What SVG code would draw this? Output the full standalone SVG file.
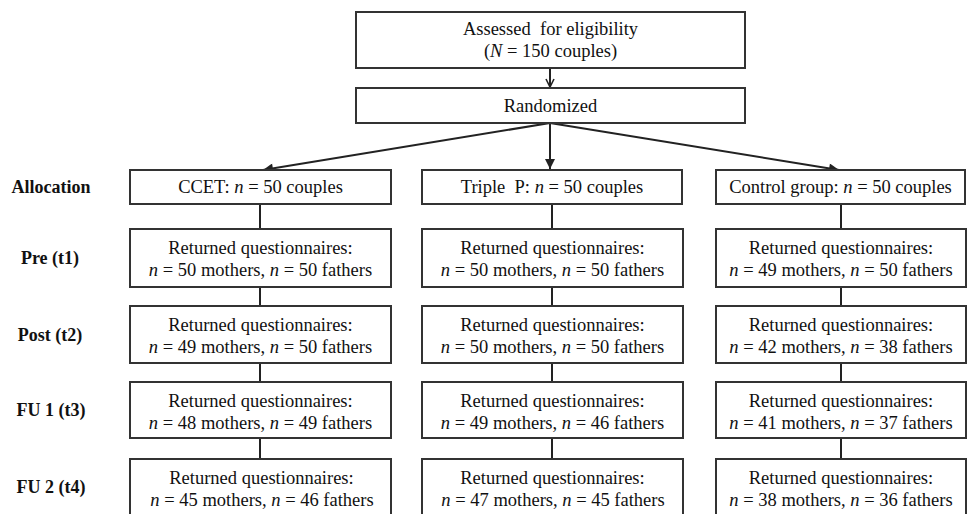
<svg xmlns="http://www.w3.org/2000/svg" width="968" height="514" viewBox="0 0 968 514">
<defs>
<style>
.box{fill:#fff;stroke:#333;stroke-width:2}
.t{font-family:'Times New Roman','Liberation Serif','DejaVu Serif',serif;font-size:18.5px;fill:#111;text-anchor:middle;white-space:pre}
.lab{font-family:'Times New Roman','Liberation Serif','DejaVu Serif',serif;font-size:18px;font-weight:bold;fill:#111;text-anchor:middle}
.c{stroke:#222;stroke-width:2;fill:none}
</style>
<marker id="open" viewBox="0 0 10 10" refX="9" refY="5" markerWidth="10" markerHeight="10" markerUnits="userSpaceOnUse" orient="auto">
<path d="M1,1 L9,5 L1,9" fill="none" stroke="#222" stroke-width="1.6"/>
</marker>
<marker id="fill" viewBox="0 0 10 10" refX="10" refY="5" markerWidth="12" markerHeight="10" markerUnits="userSpaceOnUse" orient="auto">
<path d="M0,0 L10,5 L0,10 Z" fill="#222"/>
</marker>
</defs>
<rect width="968" height="514" fill="#fff"/>

<g id="connectors">
<line class="c" x1="550" y1="68" x2="550" y2="87" marker-end="url(#open)"/>
<line class="c" x1="550" y1="123" x2="263" y2="170" marker-end="url(#fill)"/>
<line class="c" x1="550" y1="123" x2="550" y2="169" marker-end="url(#fill)"/>
<line class="c" x1="550" y1="123" x2="839" y2="170" marker-end="url(#fill)"/>
<path class="c" d="M260,204V229M260,287V306M260,363V382M260,438V459"/>
<path class="c" d="M552,204V229M552,287V306M552,363V382M552,438V459"/>
<path class="c" d="M841,204V229M841,287V306M841,363V382M841,438V459"/>
</g>

<g id="labels">
<text class="lab" x="51" y="193">Allocation</text>
<text class="lab" x="50" y="264">Pre (t1)</text>
<text class="lab" x="50" y="341">Post (t2)</text>
<text class="lab" x="51" y="416">FU 1 (t3)</text>
<text class="lab" x="51" y="493">FU 2 (t4)</text>
</g>

<g id="eligibility">
<rect class="box" x="356" y="12" width="389" height="56"/>
<text class="t" x="550.5" y="35">Assessed  for eligibility</text>
<text class="t" x="550.5" y="57">(<tspan font-style="italic">N</tspan> = 150 couples)</text>
</g>
<g id="randomized">
<rect class="box" x="356" y="88" width="389" height="35"/>
<text class="t" x="550.5" y="112">Randomized</text>
</g>

<g id="ccet">
<rect class="box" x="130" y="170" width="261" height="34"/>
<text class="t" x="260.5" y="193">CCET: <tspan font-style="italic">n</tspan> = 50 couples</text>
</g>
<g id="triplep">
<rect class="box" x="422" y="170" width="260" height="34"/>
<text class="t" x="552" y="193">Triple  P: <tspan font-style="italic">n</tspan> = 50 couples</text>
</g>
<g id="control">
<rect class="box" x="716" y="170" width="249" height="34"/>
<text class="t" x="840.5" y="193">Control group: <tspan font-style="italic">n</tspan> = 50 couples</text>
</g>

<g id="ccet-pre">
<rect class="box" x="130" y="229" width="261" height="58"/>
<text class="t" x="260.5" y="254">Returned questionnaires:</text>
<text class="t" x="260.5" y="276"><tspan font-style="italic">n</tspan> = 50 mothers, <tspan font-style="italic">n</tspan> = 50 fathers</text>
</g>
<g id="triplep-pre">
<rect class="box" x="422" y="229" width="261" height="58"/>
<text class="t" x="552.5" y="254">Returned questionnaires:</text>
<text class="t" x="552.5" y="276"><tspan font-style="italic">n</tspan> = 50 mothers, <tspan font-style="italic">n</tspan> = 50 fathers</text>
</g>
<g id="control-pre">
<rect class="box" x="716" y="229" width="250" height="58"/>
<text class="t" x="841" y="254">Returned questionnaires:</text>
<text class="t" x="841" y="276"><tspan font-style="italic">n</tspan> = 49 mothers, <tspan font-style="italic">n</tspan> = 50 fathers</text>
</g>

<g id="ccet-post">
<rect class="box" x="130" y="306" width="261" height="57"/>
<text class="t" x="260.5" y="331">Returned questionnaires:</text>
<text class="t" x="260.5" y="353"><tspan font-style="italic">n</tspan> = 49 mothers, <tspan font-style="italic">n</tspan> = 50 fathers</text>
</g>
<g id="triplep-post">
<rect class="box" x="422" y="306" width="261" height="57"/>
<text class="t" x="552.5" y="331">Returned questionnaires:</text>
<text class="t" x="552.5" y="353"><tspan font-style="italic">n</tspan> = 50 mothers, <tspan font-style="italic">n</tspan> = 50 fathers</text>
</g>
<g id="control-post">
<rect class="box" x="716" y="306" width="250" height="57"/>
<text class="t" x="841" y="331">Returned questionnaires:</text>
<text class="t" x="841" y="353"><tspan font-style="italic">n</tspan> = 42 mothers, <tspan font-style="italic">n</tspan> = 38 fathers</text>
</g>

<g id="ccet-fu1">
<rect class="box" x="130" y="382" width="261" height="56"/>
<text class="t" x="260.5" y="407">Returned questionnaires:</text>
<text class="t" x="260.5" y="429"><tspan font-style="italic">n</tspan> = 48 mothers, <tspan font-style="italic">n</tspan> = 49 fathers</text>
</g>
<g id="triplep-fu1">
<rect class="box" x="422" y="382" width="261" height="56"/>
<text class="t" x="552.5" y="407">Returned questionnaires:</text>
<text class="t" x="552.5" y="429"><tspan font-style="italic">n</tspan> = 49 mothers, <tspan font-style="italic">n</tspan> = 46 fathers</text>
</g>
<g id="control-fu1">
<rect class="box" x="716" y="382" width="250" height="56"/>
<text class="t" x="841" y="407">Returned questionnaires:</text>
<text class="t" x="841" y="429"><tspan font-style="italic">n</tspan> = 41 mothers, <tspan font-style="italic">n</tspan> = 37 fathers</text>
</g>

<g id="ccet-fu2">
<rect class="box" x="130" y="459" width="261" height="60"/>
<text class="t" x="261.5" y="484">Returned questionnaires:</text>
<text class="t" x="262" y="506"><tspan font-style="italic">n</tspan> = 45 mothers, <tspan font-style="italic">n</tspan> = 46 fathers</text>
</g>
<g id="triplep-fu2">
<rect class="box" x="422" y="459" width="261" height="60"/>
<text class="t" x="552.5" y="484">Returned questionnaires:</text>
<text class="t" x="553" y="506"><tspan font-style="italic">n</tspan> = 47 mothers, <tspan font-style="italic">n</tspan> = 45 fathers</text>
</g>
<g id="control-fu2">
<rect class="box" x="716" y="459" width="250" height="60"/>
<text class="t" x="841" y="484">Returned questionnaires:</text>
<text class="t" x="841" y="506"><tspan font-style="italic">n</tspan> = 38 mothers, <tspan font-style="italic">n</tspan> = 36 fathers</text>
</g>
</svg>
